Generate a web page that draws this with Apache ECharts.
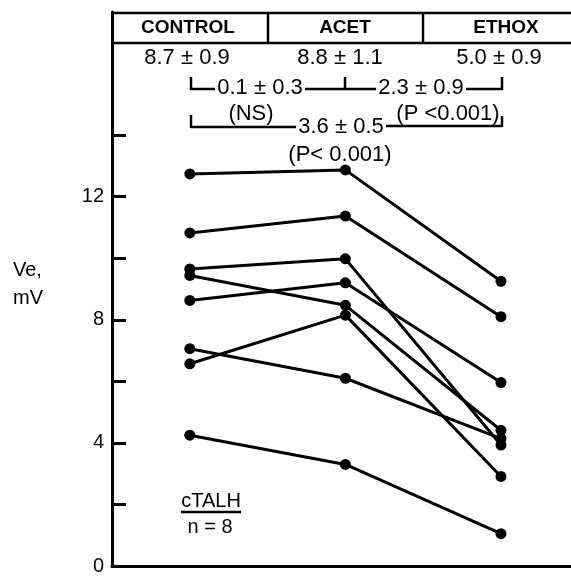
<!DOCTYPE html>
<html>
<head>
<meta charset="utf-8">
<script src="https://cdn.jsdelivr.net/npm/echarts@6/dist/echarts.min.js"></script>
<style>
  html, body { margin: 0; padding: 0; background: #fff; }
  #chart { width: 571px; height: 576px; }
</style>
</head>
<body>
<div id="chart"></div>
<script>
// groups along x (1 = control, 2 = acet, 3 = ethox)
var groups = ['CONTROL', 'ACET', 'ETHOX'];
var groupMeans = ['8.7 ± 0.9', '8.8 ± 1.1', '5.0 ± 0.9'];
// Ve (mV) per subject, cTALH n = 8
var control = [12.74, 10.82, 9.65, 9.44, 8.63, 7.06, 6.57, 4.25];
var acet    = [12.87, 11.37, 9.98, 8.47, 9.20, 6.10, 8.15, 3.30];
var ethox   = [9.25, 8.10, 3.93, 4.41, 5.96, 4.14, 2.91, 1.05];
var yTicks  = [0, 2, 4, 6, 8, 10, 12, 14];
var yLabels = [0, 4, 8, 12];

var FONT = "'Liberation Sans', Arial, sans-serif";

var series = [];
for (var i = 0; i < control.length; i++) {
    series.push({
        type: 'line',
        data: [[1, control[i]], [2, acet[i]], [3, ethox[i]]],
        symbol: 'circle',
        symbolSize: 11,
        lineStyle: { color: '#000', width: 3 },
        itemStyle: { color: '#000' },
        silent: true
    });
}

function txt(s, x, y, size, weight) {
    return {
        type: 'text', x: x, y: y, silent: true,
        style: {
            text: s, fill: '#000', align: 'center', verticalAlign: 'middle',
            font: (weight || 'normal') + ' ' + size + 'px ' + FONT
        }
    };
}
function seg(x1, y1, x2, y2) {
    return {
        type: 'line', silent: true,
        shape: { x1: x1, y1: y1, x2: x2, y2: y2 },
        style: { stroke: '#000', lineWidth: 2.5 }
    };
}

var myChart = echarts.init(document.getElementById('chart'));
var option = {
    animation: false,
    backgroundColor: '#fff',
    grid: { left: 112, right: 0, top: 12, bottom: 6 },
    xAxis: {
        type: 'value', min: 0.5, max: 3.45,
        axisLine: { show: true, lineStyle: { color: '#000', width: 3 } },
        axisTick: { show: false },
        axisLabel: { show: false },
        splitLine: { show: false }
    },
    yAxis: {
        type: 'value', min: 0, max: 18, interval: 2,
        axisLine: { show: true, lineStyle: { color: '#000', width: 3 } },
        axisTick: {
            show: true, inside: true, length: 14, customValues: yTicks,
            lineStyle: { color: '#000', width: 3 }
        },
        axisLabel: {
            customValues: yLabels, margin: 8, color: '#000',
            fontSize: 20, fontFamily: FONT
        },
        splitLine: { show: false }
    },
    series: series
};
myChart.setOption(option);

// header box and comparison brackets
var g = [];
g.push(seg(112, 13, 571, 13), seg(112, 43, 571, 43), seg(268, 13, 268, 43), seg(423, 13, 423, 43));
g.push(txt(groups[0], 188, 28, 19, 'bold'), txt(groups[1], 345, 28, 19, 'bold'), txt(groups[2], 506, 28, 19, 'bold'));
g.push(txt(groupMeans[0], 187, 58, 22), txt(groupMeans[1], 340, 58, 22), txt(groupMeans[2], 499, 58, 22));
// control vs acet, acet vs ethox
g.push(seg(191, 77, 191, 90), seg(191, 89, 215, 89), txt('0.1 ± 0.3', 260, 88, 22), seg(305, 89, 376, 89),
       seg(345, 77, 345, 89), txt('2.3 ± 0.9', 421, 88, 22), seg(466, 89, 502, 89), seg(502, 77, 502, 90));
g.push(txt('(NS)', 251, 114, 22), txt('(P <0.001)', 448, 114, 22));
// control vs ethox
g.push(seg(191, 115, 191, 128), seg(191, 127, 296, 127), txt('3.6 ± 0.5', 341, 127, 22),
       seg(386, 126, 502, 126), seg(502, 116, 502, 127));
g.push(txt('(P< 0.001)', 340, 155, 22));
// axis title and group note
g.push({ type: 'text', x: 13, y: 270, silent: true,
         style: { text: 'Ve,', fill: '#000', align: 'left', verticalAlign: 'middle', font: '20px ' + FONT } });
g.push({ type: 'text', x: 13, y: 298, silent: true,
         style: { text: 'mV', fill: '#000', align: 'left', verticalAlign: 'middle', font: '20px ' + FONT } });
g.push(txt('cTALH', 211, 501, 20), seg(181, 512, 241, 512), txt('n = 8', 210, 527, 20));
myChart.setOption({ graphic: g });
</script>
</body>
</html>
